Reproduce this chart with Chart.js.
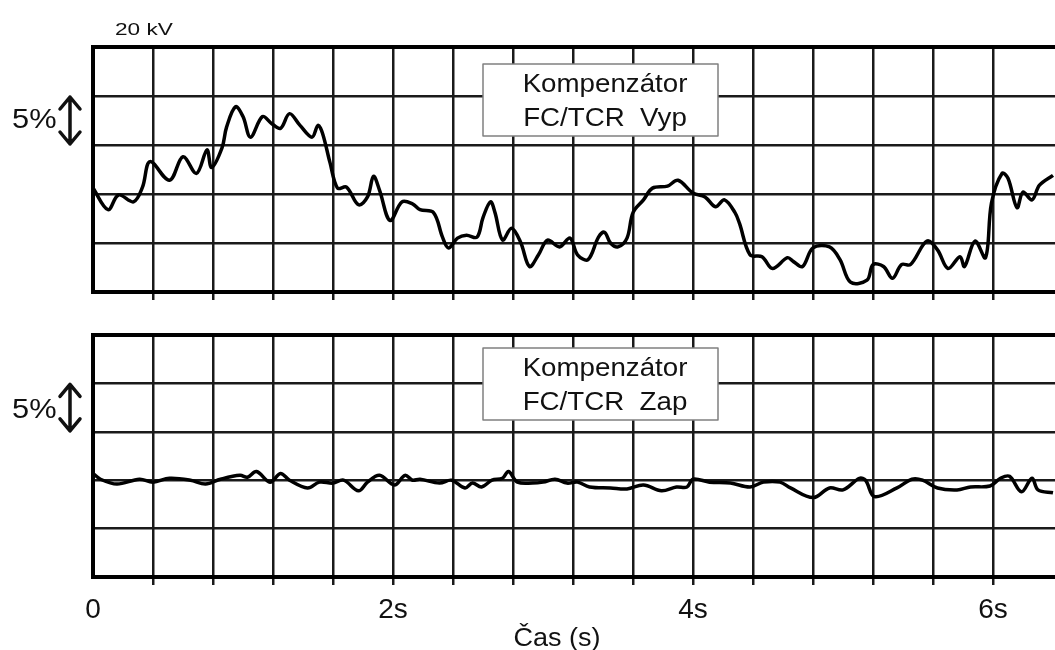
<!DOCTYPE html>
<html>
<head>
<meta charset="utf-8">
<script src="https://cdn.jsdelivr.net/npm/chart.js@4"></script>
<style>
  html, body { margin: 0; padding: 0; background: #fff; overflow: hidden; }
  #wrap { position: relative; width: 1055px; height: 650px; overflow: hidden; }
  canvas { position: absolute; left: 0; }
  #top { top: 0; }
  #bottom { top: 320px; }
</style>
</head>
<body>
<div id="wrap">
  <canvas id="top" width="1064" height="320"></canvas>
  <canvas id="bottom" width="1064" height="330"></canvas>
</div>
<script>
// time in seconds, voltage in % (one grid division = 5 %)
let timeMax = 6.42
let gridStep = 0.4
let levelMax = 25
let levelStep = 5
let timeLabels = {0: '0', 2: '2s', 4: '4s', 6: '6s'}

// compensator off
let offTime = [0.00,0.10,0.17,0.27,0.33,0.38,0.51,0.60,0.69,0.76,
  0.79,0.86,0.89,0.95,1.00,1.05,1.13,1.19,1.25,1.31,
  1.38,1.46,1.50,1.53,1.58,1.63,1.69,1.77,1.83,1.87,
  1.91,1.98,2.06,2.13,2.18,2.27,2.33,2.37,2.43,2.49,
  2.56,2.60,2.65,2.68,2.73,2.79,2.85,2.91,2.97,3.03,
  3.11,3.18,3.23,3.30,3.37,3.41,3.45,3.50,3.56,3.60,
  3.67,3.73,3.83,3.90,4.00,4.08,4.15,4.21,4.28,4.31,
  4.38,4.46,4.53,4.63,4.67,4.73,4.80,4.91,4.98,5.05,
  5.16,5.20,5.27,5.33,5.39,5.45,5.56,5.63,5.70,5.78,
  5.81,5.88,5.95,5.99,6.06,6.10,6.16,6.20,6.26,6.31,
  6.40]
let offLevel = [10.6,8.4,9.9,9.2,10.7,13.3,11.4,13.8,12.1,14.5,
  12.7,14.7,16.8,18.9,17.9,15.8,17.9,17.2,16.7,18.2,
  17.0,15.8,17.0,16.2,13.2,10.6,10.7,8.9,9.7,11.8,
  10.4,7.3,9.2,9.0,8.4,8.1,5.6,4.5,5.5,5.8,
  5.6,7.6,9.2,8.1,5.3,6.5,5.1,2.6,3.8,5.3,
  4.6,5.5,3.8,3.3,5.6,6.1,5.0,4.6,5.5,8.1,
  9.4,10.6,10.8,11.4,10.1,9.7,8.7,9.4,8.1,7.0,
  3.8,3.6,2.4,3.5,3.1,2.6,4.5,4.6,3.3,1.0,
  1.2,2.8,2.6,1.4,2.8,2.8,5.2,4.3,2.4,3.6,
  2.6,5.2,3.5,9.1,12.1,11.6,8.6,10.2,9.4,10.9,
  11.9]

// compensator on
let onTime = [0.00,0.05,0.16,0.31,0.40,0.51,0.65,0.75,0.85,0.98,
  1.03,1.09,1.18,1.25,1.31,1.43,1.51,1.60,1.67,1.77,
  1.83,1.91,2.01,2.08,2.13,2.18,2.31,2.39,2.48,2.53,
  2.59,2.66,2.73,2.77,2.83,2.93,3.00,3.08,3.16,3.23,
  3.31,3.45,3.56,3.67,3.79,3.89,3.96,4.00,4.11,4.25,
  4.38,4.47,4.58,4.65,4.80,4.91,5.00,5.11,5.15,5.21,
  5.36,5.46,5.53,5.63,5.76,5.85,5.98,6.05,6.11,6.19,
  6.26,6.30,6.40]
let onLevel = [10.7,10.1,9.6,10.1,9.8,10.2,10.0,9.6,10.1,10.5,
  10.3,10.9,9.8,10.7,10.0,9.2,9.8,9.7,10.0,8.9,
  9.8,10.5,9.5,10.5,10.0,10.1,9.7,10.0,9.2,9.7,
  9.3,10.0,10.2,10.9,9.8,9.7,9.8,10.1,9.7,9.8,
  9.3,9.2,9.1,9.5,8.9,9.3,9.3,10.1,9.8,9.7,
  9.3,9.8,9.8,9.2,8.2,9.2,9.0,10.2,10.0,8.3,
  9.2,10.1,10.0,9.2,9.0,9.3,9.4,10.2,10.4,8.8,
  10.2,9.0,8.7]

let fontFamily = '"Liberation Sans", Arial, sans-serif'

function wideText(ctx, text, x, y, size, stretch, align) {
  ctx.save()
  ctx.font = size + 'px ' + fontFamily
  ctx.textAlign = align || 'left'
  ctx.textBaseline = 'alphabetic'
  ctx.translate(x, y)
  ctx.scale(stretch, 1)
  ctx.fillText(text, 0, 0)
  ctx.restore()
}

// box label, 5% arrow and free texts
const scopeNotes = {
  id: 'scopeNotes',
  afterDraw(chart, args, opts) {
    let ctx = chart.ctx
    let area = chart.chartArea
    let y = chart.scales.y
    ctx.save()
    ctx.fillStyle = '#111'
    ctx.strokeStyle = '#111'

    // double arrow over one division
    let a = y.getPixelForValue(20) + 1
    let b = y.getPixelForValue(15) - 1
    let ax = 70
    ctx.lineWidth = 3.5
    ctx.lineCap = 'round'
    ctx.lineJoin = 'round'
    ctx.beginPath()
    ctx.moveTo(ax, a)
    ctx.lineTo(ax, b)
    ctx.moveTo(ax - 10, a + 12)
    ctx.lineTo(ax, a)
    ctx.lineTo(ax + 10, a + 12)
    ctx.moveTo(ax - 10, b - 12)
    ctx.lineTo(ax, b)
    ctx.lineTo(ax + 10, b - 12)
    ctx.stroke()
    wideText(ctx, '5%', 12, a + opts.pctOffset, 28, 1.1)

    // legend box
    let bx = 483, bw = 235
    let by = area.top + opts.boxTop, bh = 72
    ctx.fillStyle = '#fff'
    ctx.fillRect(bx, by, bw, bh)
    ctx.strokeStyle = '#808080'
    ctx.lineWidth = 1.5
    ctx.strokeRect(bx, by, bw, bh)
    ctx.fillStyle = '#111'
    wideText(ctx, opts.box[0], 605, by + 28, 26, 1.065, 'center')
    wideText(ctx, opts.box[1], 605, by + 62, 26, 1.065, 'center')

    if (opts.kv) wideText(ctx, '20 kV', 115, 35, 17, 1.33)
    if (opts.xTitle) wideText(ctx, opts.xTitle, 557, chart.height - 4, 25, 1.08, 'center')
    ctx.restore()
  },
}

function makeScope(canvas, time, level, notes, withLabels, padTop, axisHeight) {
  let points = []
  for (let i = 0; i < time.length; ++i) points.push({x: time[i], y: level[i]})
  return new Chart(canvas.getContext('2d'), {
    type: 'line',
    data: {
      datasets: [{
        data: points,
        borderColor: '#000',
        borderWidth: 3.5,
        pointRadius: 0,
        tension: 0.35,
        fill: false,
      }],
    },
    plugins: [scopeNotes],
    options: {
      responsive: false,
      animation: false,
      layout: {padding: {left: 93, top: padTop, right: 0, bottom: 0}},
      plugins: {
        legend: {display: false},
        tooltip: {enabled: false},
        scopeNotes: notes,
      },
      scales: {
        x: {
          type: 'linear',
          min: 0,
          max: timeMax,
          afterFit: s => { s.height = axisHeight },
          border: {display: true, color: '#000', width: 4},
          grid: {
            color: ctx => ctx.tick && ctx.tick.value === 0 ? 'transparent' : '#1a1a1a',
            lineWidth: 2.5,
            drawTicks: true,
            tickLength: 8,
            tickColor: ctx => ctx.tick && ctx.tick.value === 0 ? 'transparent' : '#1a1a1a',
            tickWidth: 2.5,
          },
          ticks: {
            stepSize: gridStep,
            autoSkip: false,
            maxRotation: 0,
            padding: 8,
            color: '#111',
            font: {family: fontFamily, size: 28},
            callback: v => {
              if (!withLabels) return ''
              let r = Math.round(v)
              return Math.abs(v - r) < 1e-6 && timeLabels[r] !== undefined ? timeLabels[r] : ''
            },
          },
        },
        y: {
          min: 0,
          max: levelMax,
          afterFit: s => { s.width = 0 },
          border: {display: true, color: '#000', width: 4},
          grid: {
            color: ctx => ctx.tick && ctx.tick.value === levelMax ? '#000' : '#1a1a1a',
            lineWidth: ctx => ctx.tick && ctx.tick.value === levelMax ? 4 : 2.5,
            drawTicks: false,
          },
          ticks: {display: false, stepSize: levelStep},
        },
      },
    },
  })
}

makeScope(document.getElementById('top'), offTime, offLevel,
  {box: ['Kompenzátor', 'FC/TCR  Vyp'], kv: true, boxTop: 17, pctOffset: 31},
  false, 47, 28)

makeScope(document.getElementById('bottom'), onTime, onLevel,
  {box: ['Kompenzátor', 'FC/TCR  Zap'], kv: false, boxTop: 13, pctOffset: 34, xTitle: 'Čas (s)'},
  true, 15, 73)
</script>
</body>
</html>
